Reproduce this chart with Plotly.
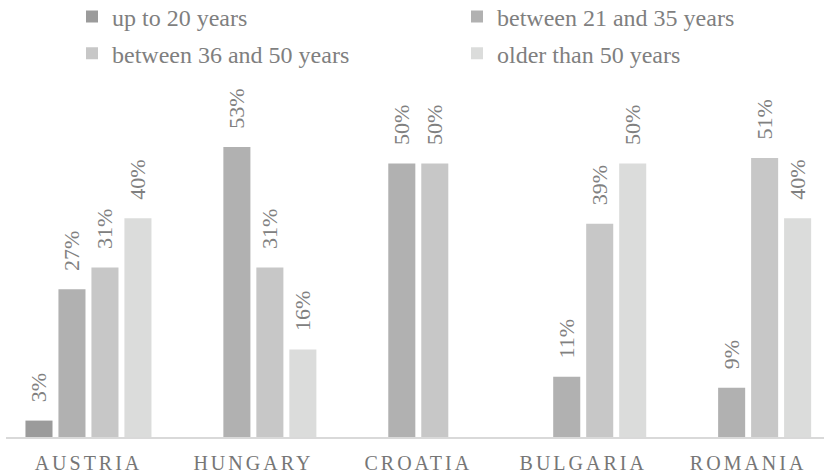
import plotly.graph_objects as go

categories = ["AUSTRIA", "HUNGARY", "CROATIA", "BULGARIA", "ROMANIA"]
series_names = ["up to 20 years", "between 21 and 35 years",
                "between 36 and 50 years", "older than 50 years"]
up_to_20 = [3, None, None, None, None]
between_21_35 = [27, 53, 50, 11, 9]
between_36_50 = [31, 31, 50, 39, 51]
older_50 = [40, 16, None, 50, 40]

series_values = [up_to_20, between_21_35, between_36_50, older_50]
colors = ["#9b9b9b", "#b1b1b1", "#c7c7c7", "#dbdcdb"]
legend_ids = ["legend", "legend2", "legend", "legend2"]

FONT = "Liberation Serif, Times New Roman, Times, serif"
W, H = 824, 475
L, R, T, B = 6, 0, 90, 38
plot_w = W - L - R
plot_h = H - T - B

fig = go.Figure()
for i, (name, vals, col, lg) in enumerate(zip(series_names, series_values, colors, legend_ids)):
    fig.add_trace(go.Bar(
        x=categories, y=vals, name=name,
        marker=dict(color=col, line=dict(width=0)),
        texttemplate='\u00a0\u00a0\u2009%{y}%',
        textposition="outside", textangle=-90, constraintext="none",
        cliponaxis=False,
        textfont=dict(family=FONT, size=22, color="#808080"),
        legend=lg, legendgroup="g%d" % i, hoverinfo="skip",
    ))

ticktext = ['<span style="letter-spacing:3px">' + c + '</span>' for c in categories]

legend_common = dict(
    orientation="v", xanchor="left", yanchor="top",
    y=1 + (T + 5.5) / plot_h,
    traceorder="grouped", tracegroupgap=2.5,
    font=dict(family=FONT, size=24, color="#7f7f7f"),
    bgcolor="rgba(0,0,0,0)",
)

fig.update_layout(
    width=W, height=H,
    margin=dict(l=L, r=R, t=T, b=B, pad=0, autoexpand=False),
    paper_bgcolor="white", plot_bgcolor="white",
    barmode="group", bargap=0.2, bargroupgap=0.18,
    font=dict(family=FONT, color="#7f7f7f"),
    xaxis=dict(range=[-0.5, 4.46], showgrid=False, zeroline=False,
               showline=True, linecolor="#d9d9d9", linewidth=2,
               tickmode="array", tickvals=categories, ticktext=ticktext,
               ticks="", ticklabelstandoff=7,
               tickfont=dict(family=FONT, size=20, color="#767676"),
               fixedrange=True),
    yaxis=dict(range=[0, plot_h / 5.47], visible=False, fixedrange=True),
    legend=dict(x=(72 - L) / plot_w, **legend_common),
    legend2=dict(x=(457 - L) / plot_w, **legend_common),
    showlegend=True,
)

fig.write_html("out.html")
